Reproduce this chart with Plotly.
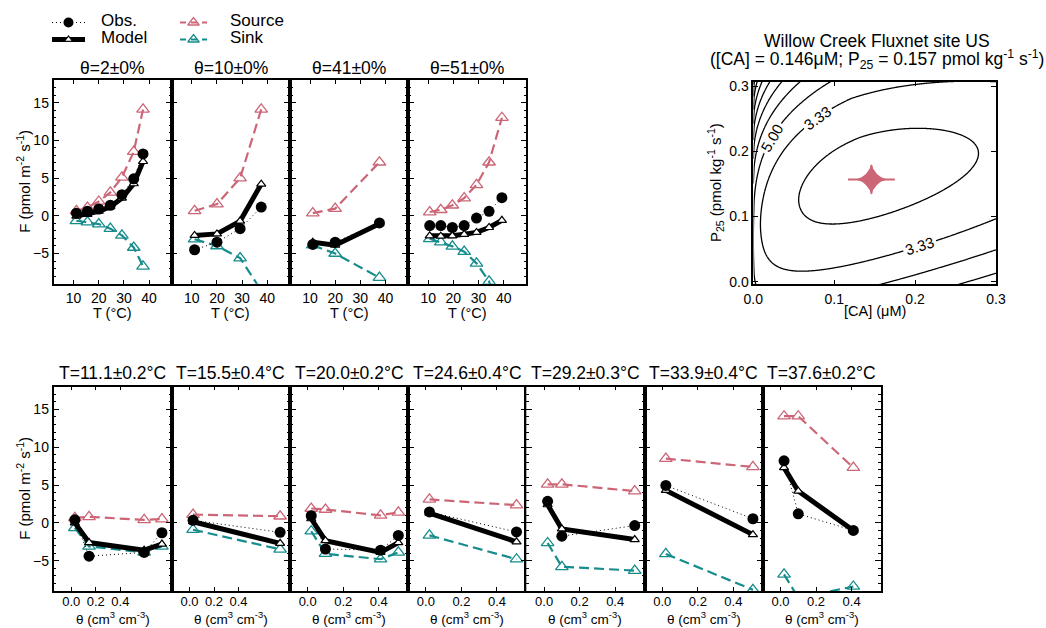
import numpy as np
import plotly.graph_objects as go

W, H = 1046, 628
FONT = "Liberation Sans, Arial, Helvetica, sans-serif"
C_SRC = "#CC6677"
C_SNK = "#178C8C"

# ---------------- top row: fixed soil moisture, x = temperature ----------------
TOP_TITLES = ["θ=2±0%", "θ=10±0%", "θ=41±0%", "θ=51±0%"]
TOP_T = [
    [11.1, 15.5, 20.0, 24.6, 29.2, 33.9, 37.6],
    [11.1, 20.0, 29.2, 37.6],
    [11.1, 20.0, 37.6],
    [10.6, 15.0, 19.6, 24.3, 29.2, 34.2, 39.3],
]
TOP_OBS = [
    [0.35, 0.6, 0.9, 1.4, 2.8, 4.9, 8.2],
    [-4.5, -3.5, -1.7, 1.15],
    [-3.8, -3.5, -0.95],
    [-1.3, -1.3, -1.55, -1.3, -0.3, 0.6, 2.4],
]
TOP_MODEL = [
    [-0.05, 0.2, 0.6, 1.2, 2.35, 4.25, 7.2],
    [-2.6, -2.4, -0.7, 4.2],
    [-3.5, -3.9, -1.05],
    [-2.65, -2.7, -2.65, -2.45, -2.2, -1.55, -0.6],
]
TOP_SOURCE = [
    [0.66, 1.1, 1.9, 3.1, 5.1, 8.5, 14.1],
    [0.66, 1.55, 5.0, 14.1],
    [0.35, 0.95, 7.1],
    [0.5, 0.8, 1.4, 2.35, 4.1, 7.1, 13.0],
]
TOP_SINK = [
    [-0.66, -0.84, -1.1, -1.7, -2.6, -4.2, -6.7],
    [-3.1, -4.0, -5.6, -9.9],
    [-3.9, -5.0, -8.2],
    [-3.05, -3.5, -4.05, -4.75, -6.3, -8.7, -13.6],
]
TOP_XTICKS = [10, 20, 30, 40]

# ---------------- bottom row: fixed temperature, x = soil moisture ----------------
BOT_TITLES = ["T=11.1±0.2°C", "T=15.5±0.4°C", "T=20.0±0.2°C", "T=24.6±0.4°C",
              "T=29.2±0.3°C", "T=33.9±0.4°C", "T=37.6±0.2°C"]
BOT_THETA = [
    [0.02, 0.10, 0.41, 0.51],
    [0.02, 0.51],
    [0.02, 0.10, 0.41, 0.51],
    [0.02, 0.51],
    [0.02, 0.10, 0.51],
    [0.02, 0.51],
    [0.02, 0.10, 0.41],
]
BOT_OBS = [
    [0.4, -4.4, -3.9, -1.3],
    [0.35, -1.25],
    [0.95, -3.45, -3.6, -1.65],
    [1.45, -1.2],
    [2.85, -1.75, -0.35],
    [4.95, 0.55],
    [8.2, 1.2, -1.0],
]
BOT_MODEL = [
    [0.0, -2.6, -3.6, -2.8],
    [0.15, -2.7],
    [0.55, -2.35, -3.9, -2.6],
    [1.3, -2.5],
    [2.4, -0.8, -2.2],
    [4.3, -1.55],
    [7.3, 4.2, -1.0],
]
BOT_SOURCE = [
    [0.66, 0.8, 0.4, 0.5],
    [1.1, 0.88],
    [1.9, 1.77, 1.0, 1.4],
    [3.1, 2.35],
    [5.1, 5.1, 4.2],
    [8.5, 7.4],
    [14.1, 14.1, 7.3],
]
BOT_SINK = [
    [-0.66, -3.1, -3.9, -3.1],
    [-0.9, -3.5],
    [-1.1, -4.07, -4.8, -3.9],
    [-1.65, -4.8],
    [-2.65, -5.8, -6.3],
    [-4.1, -8.85],
    [-6.8, -9.9, -8.4],
]
THETA_TICKTEXT = ["0.0", "0.2", "0.4"]
THETA_TICKS_COMPRESSED = [0.0, 0.138, 0.276]   # as drawn in the first two panels
THETA_TICKS = [0.0, 0.2, 0.4]

F_TICKS = [-5, 0, 5, 10, 15]

# ---------------- cost surface (right panel) ----------------
CA_BEST, P25_BEST = 0.146, 0.157
CA_ERR, P25_ERR = 0.029, 0.022
SURF_P25_CENTER = 0.162
COST_MIN = 1.1
TILT_DEG = 16.4
SCALE_U, SCALE_V = 0.20, 0.083
CORNER_STEEPNESS = 225.0
CONTOUR_STEP = 5.0 / 3.0
CA_TICKS = [0.0, 0.1, 0.2, 0.3]

ca = np.linspace(0.0, 0.3, 301)
p25 = np.linspace(-0.006, 0.31, 317)
X, Y = np.meshgrid(ca, p25)
dq = np.sqrt(X) - np.sqrt(CA_BEST)
dp = Y - SURF_P25_CENTER
phi = np.radians(TILT_DEG)
u = dq * np.cos(phi) + dp * np.sin(phi)
v = -dq * np.sin(phi) + dp * np.cos(phi)
Z = (COST_MIN + (u / SCALE_U) ** 2 + (v / SCALE_V) ** 2
     + CORNER_STEEPNESS * np.maximum(-u, 0) * np.maximum(v, 0) ** 2)

# ---------------- geometry ----------------
P_LEFT, P_W = 53.5, 118.2
TOP_Y = (80.0, 283.7)
BOT_Y = (386.7, 591.0)


def dx(a, b):
    return [a / W, b / W]


def dy(top, bottom):
    return [1 - bottom / H, 1 - top / H]


def ann(text, xpx, ypx, size, xanchor="center", yanchor="middle", angle=0):
    return dict(text=text, x=xpx / W, y=1 - ypx / H, xref="paper", yref="paper",
                showarrow=False, xanchor=xanchor, yanchor=yanchor, textangle=angle,
                borderpad=0,
                font=dict(size=size, color="black", family=FONT))


fig = go.Figure()
layout = dict(width=W, height=H, margin=dict(l=0, r=0, t=0, b=0, pad=0, autoexpand=False),
              paper_bgcolor="white", plot_bgcolor="white", showlegend=False,
              font=dict(family=FONT, color="black", size=14))
annotations = []

AXBASE = dict(showline=True, linewidth=1.5, linecolor="black", mirror="ticks",
              showgrid=False, zeroline=False, ticks="inside", tickcolor="black",
              automargin=False,
              tickfont=dict(size=14, family=FONT, color="black"))


def yaxis_f(domain, labels):
    d = dict(AXBASE)
    d.update(domain=domain, range=[-9, 18], tickmode="array", tickvals=F_TICKS,
             ticklen=6, tickwidth=1.2, showticklabels=labels,
             minor=dict(tickmode="linear", tick0=0, dtick=1, ticks="inside",
                        ticklen=3, tickwidth=1, tickcolor="black"))
    return d


def add_series(idx, xs, obs, model, src, snk):
    xa = "x" if idx == 1 else f"x{idx}"
    ya = "y" if idx == 1 else f"y{idx}"
    fig.add_trace(go.Scatter(x=xs, y=src, xaxis=xa, yaxis=ya, mode="lines+markers",
                             line=dict(color=C_SRC, width=2.2, dash="10px,5px"),
                             marker=dict(symbol="triangle-up-open", size=11, color=C_SRC,
                                         line=dict(width=1.3, color=C_SRC))))
    fig.add_trace(go.Scatter(x=xs, y=snk, xaxis=xa, yaxis=ya, mode="lines+markers",
                             line=dict(color=C_SNK, width=2.2, dash="10px,5px"),
                             marker=dict(symbol="triangle-up-open", size=11, color=C_SNK,
                                         line=dict(width=1.3, color=C_SNK))))
    fig.add_trace(go.Scatter(x=xs, y=model, xaxis=xa, yaxis=ya, mode="lines+markers",
                             line=dict(color="black", width=5),
                             marker=dict(symbol="triangle-up", size=8, color="white",
                                         line=dict(width=1.2, color="black"))))
    fig.add_trace(go.Scatter(x=xs, y=obs, xaxis=xa, yaxis=ya, mode="lines+markers",
                             line=dict(color="black", width=1, dash="1px,3px"),
                             marker=dict(symbol="circle", size=11, color="black")))


# top row
for i in range(4):
    idx = i + 1
    x0 = P_LEFT + i * P_W
    add_series(idx, TOP_T[i], TOP_OBS[i], TOP_MODEL[i], TOP_SOURCE[i], TOP_SINK[i])
    xk = "xaxis" if idx == 1 else f"xaxis{idx}"
    yk = "yaxis" if idx == 1 else f"yaxis{idx}"
    xd = dict(AXBASE)
    xd.update(domain=dx(x0, x0 + P_W), range=[2, 49], tickmode="array",
              tickvals=TOP_XTICKS, ticklen=4, tickwidth=1.2, ticklabelstandoff=1,
              anchor="y" if idx == 1 else f"y{idx}")
    layout[xk] = xd
    yd = yaxis_f(dy(*TOP_Y), i == 0)
    yd["anchor"] = "x" if idx == 1 else f"x{idx}"
    layout[yk] = yd
    annotations.append(ann(TOP_TITLES[i], x0 + P_W / 2, 68, 17.5))
    annotations.append(ann("T (°C)", x0 + P_W / 2, 322, 14.5, yanchor="bottom"))

# bottom row
for j in range(7):
    idx = j + 5
    x0 = P_LEFT + j * P_W
    add_series(idx, BOT_THETA[j], BOT_OBS[j], BOT_MODEL[j], BOT_SOURCE[j], BOT_SINK[j])
    xd = dict(AXBASE)
    tv = THETA_TICKS_COMPRESSED if j < 2 else THETA_TICKS
    xd.update(domain=dx(x0, x0 + P_W), range=[-0.1, 0.565], tickmode="array",
              tickvals=tv, ticktext=THETA_TICKTEXT, ticklen=4, tickwidth=1.2,
              ticklabelstandoff=-2, anchor=f"y{idx}",
              tickfont=dict(size=13, family=FONT, color="black"))
    layout[f"xaxis{idx}"] = xd
    yd = yaxis_f(dy(*BOT_Y), j == 0)
    yd["anchor"] = f"x{idx}"
    layout[f"yaxis{idx}"] = yd
    annotations.append(ann(BOT_TITLES[j], x0 + P_W / 2, 373, 17.5))
    annotations.append(ann("θ (cm<sup>3</sup> cm<sup>-3</sup>)", x0 + P_W / 2, 628, 13.5, yanchor="bottom"))

annotations.append(ann("F (pmol m<sup>-2</sup> s<sup>-1</sup>)", 24, (TOP_Y[0] + TOP_Y[1]) / 2, 15, angle=-90))
annotations.append(ann("F (pmol m<sup>-2</sup> s<sup>-1</sup>)", 24, (BOT_Y[0] + BOT_Y[1]) / 2, 15, angle=-90))

# contour panel: innermost level unlabelled, outer levels labelled
fig.add_trace(go.Contour(
    x=ca, y=p25, z=Z, xaxis="x12", yaxis="y12", showscale=False,
    colorscale=[[0, "black"], [1, "black"]], line=dict(width=1.3),
    contours=dict(coloring="lines", start=CONTOUR_STEP, end=CONTOUR_STEP * 1.01,
                  size=CONTOUR_STEP, showlabels=False),
    hoverinfo="skip"))
fig.add_trace(go.Contour(
    x=ca, y=p25, z=Z, xaxis="x12", yaxis="y12", showscale=False,
    colorscale=[[0, "black"], [1, "black"]], line=dict(width=1.3),
    contours=dict(coloring="lines", start=2 * CONTOUR_STEP, end=30, size=CONTOUR_STEP,
                  showlabels=True, labelformat=".2f",
                  labelfont=dict(size=15, color="black", family=FONT)),
    hoverinfo="skip"))
fig.add_trace(go.Scatter(
    x=[CA_BEST], y=[P25_BEST], xaxis="x12", yaxis="y12", mode="markers",
    marker=dict(symbol="star-diamond", size=22, color=C_SRC),
    error_x=dict(type="constant", value=CA_ERR, color=C_SRC, thickness=2, width=0),
    error_y=dict(type="constant", value=P25_ERR, color=C_SRC, thickness=2, width=0)))
fig.add_trace(go.Scatter(
    x=[CA_BEST], y=[P25_BEST], xaxis="x12", yaxis="y12", mode="markers",
    marker=dict(symbol="circle", size=11, color=C_SRC)))
cx = dict(AXBASE)
cx.update(domain=dx(753.3, 996), range=[0, 0.3], tickmode="array", tickvals=CA_TICKS,
          ticktext=[f"{t:.1f}" for t in CA_TICKS], ticklen=5, tickwidth=1.2,
          ticklabelstandoff=1, anchor="y12")
cy = dict(AXBASE)
cy.update(domain=dy(81.7, 284.3), range=[-0.004, 0.307], tickmode="array", tickvals=CA_TICKS,
          ticktext=[f"{t:.1f}" for t in CA_TICKS], ticklen=5, tickwidth=1.2, anchor="x12")
layout["xaxis12"] = cx
layout["yaxis12"] = cy
annotations.append(ann("Willow Creek Fluxnet site US", 877, 40.5, 17.5))
annotations.append(ann("([CA] = 0.146μM; P<sub>25</sub> = 0.157 pmol kg<sup>-1</sup> s<sup>-1</sup>)", 877, 60, 17.5))
annotations.append(ann("[CA] (μM)", 875, 320, 14.5, yanchor="bottom"))
annotations.append(ann("P<sub>25</sub> (pmol kg<sup>-1</sup> s<sup>-1</sup>)", 715, 183, 15, angle=-90))

# legend (drawn in a hidden pixel-unit axis)
LEG_ROW_Y = [22.5, 39.5]
LEG_COL_X = [(52, 85), (180, 207)]
LEG_TEXT_X = [100, 229]
layout["xaxis13"] = dict(domain=[0, 300 / W], range=[0, 300], visible=False, anchor="y13",
                         fixedrange=True, automargin=False)
layout["yaxis13"] = dict(domain=[1 - 55 / H, 1], range=[55, 0], visible=False, anchor="x13",
                         fixedrange=True, automargin=False)
leg_specs = [
    ("Obs.", 0, 0, dict(color="black", width=1, dash="1px,3px"), dict(symbol="circle", size=10, color="black")),
    ("Model", 0, 1, dict(color="black", width=5), dict(symbol="triangle-up", size=7, color="white", line=dict(width=1.2, color="black"))),
    ("Source", 1, 0, dict(color=C_SRC, width=2.2, dash="6px,5px"), dict(symbol="triangle-up-open", size=10, color=C_SRC, line=dict(width=1.3, color=C_SRC))),
    ("Sink", 1, 1, dict(color=C_SNK, width=2.2, dash="6px,5px"), dict(symbol="triangle-up-open", size=10, color=C_SNK, line=dict(width=1.3, color=C_SNK))),
]
for name, col, row, ln, mk in leg_specs:
    xa, xb = LEG_COL_X[col]
    yy = LEG_ROW_Y[row]
    fig.add_trace(go.Scatter(x=[xa, xb], y=[yy, yy], xaxis="x13", yaxis="y13", mode="lines",
                             line=ln, hoverinfo="skip"))
    fig.add_trace(go.Scatter(x=[(xa + xb) / 2], y=[yy], xaxis="x13", yaxis="y13", mode="markers",
                             marker=mk, hoverinfo="skip"))
    annotations.append(ann(name, LEG_TEXT_X[col], yy - 2, 17, xanchor="left"))

layout["annotations"] = annotations
fig.update_layout(**layout)
fig.write_html("out.html")
